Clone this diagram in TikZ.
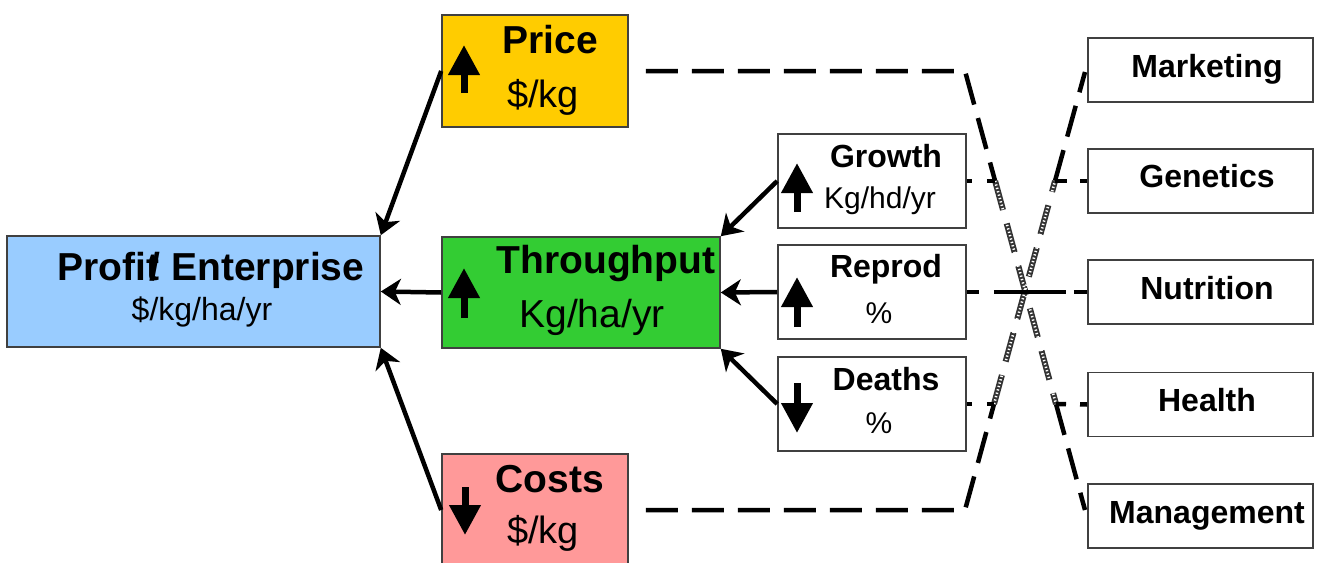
\documentclass[tikz,border=0pt]{standalone}
\usepackage{fontspec}
\setmainfont{Liberation Sans}
\usetikzlibrary{arrows.meta}
\definecolor{cprofit}{HTML}{99CCFF}
\definecolor{cprice}{HTML}{FFCC00}
\definecolor{cthr}{HTML}{33CC33}
\definecolor{ccost}{HTML}{FF9999}
\begin{document}
\begin{tikzpicture}[x=1pt,y=-1pt,
  box/.style={draw=black!75, line width=1.6pt, inner sep=0pt, minimum width=#1},
  conn/.style={line width=4.5pt, -{Stealth[length=20pt,width=26pt,inset=6pt]}},
  glyph/.style={line width=7pt, -{Triangle[length=30pt,width=30pt]}},
  dline/.style={line width=4.5pt, dash pattern=on 32pt off 14pt},
  hatchA/.style={draw=black!80, line width=6pt, dash pattern=on 30pt off 14pt},
  hatchB/.style={draw=white, line width=2.6pt, dash pattern=on 1.3pt off 2.2pt},
  txt/.style={anchor=base, inner sep=0pt},
  bigb/.style={txt, font=\fontsize{39}{41}\selectfont\bfseries},
  bigr/.style={txt, font=\fontsize{38}{40}\selectfont},
  medb/.style={txt, font=\fontsize{32}{34}\selectfont\bfseries},
  medr/.style={txt, font=\fontsize{30}{32}\selectfont},
]
\useasboundingbox (0,0) rectangle (1321,562);
\clip (0,0) rectangle (1321,562);

% main boxes
\node[box=373pt, fill=cprofit, minimum height=111pt] (profit) at (193.5,291.5) {};
\node[box=186pt, fill=cprice, minimum height=112pt] (price) at (535,71) {};
\node[box=278pt, fill=cthr, minimum height=111pt] (thr) at (581,292.5) {};
\node[box=186pt, fill=ccost, minimum height=112pt] (costs) at (535,510) {};
\node[box=188pt, fill=white, minimum height=94pt] (growth) at (872,181) {};
\node[box=188pt, fill=white, minimum height=94pt] (reprod) at (872,292) {};
\node[box=188pt, fill=white, minimum height=94pt] (deaths) at (872,404) {};
\node[box=225pt, fill=white, minimum height=64pt] (mkt) at (1200.5,70) {};
\node[box=225pt, fill=white, minimum height=64pt] (gen) at (1200.5,181) {};
\node[box=225pt, fill=white, minimum height=64pt] (nut) at (1200.5,292) {};
\node[box=225pt, fill=white, minimum height=64pt] (hea) at (1200.5,404.5) {};
\node[box=225pt, fill=white, minimum height=64pt] (mgt) at (1200.5,516) {};

% texts
\node[bigb] (tprofit) at (211,280) {Profit\kern-0.25em/ Enterprise};
\node[txt, font=\fontsize{32}{34}\selectfont] (tprofitu) at (202,320) {\$/kg/ha/yr};
\node[bigb] (tprice) at (550,53) {Price};
\node[bigr] (tpriceu) at (543,107) {\$/kg};
\node[bigb] (tthr) at (606,273) {Throughput};
\node[txt, font=\fontsize{39}{41}\selectfont] (tthru) at (592,327) {Kg/ha/yr};
\node[bigb] (tcost) at (550,492) {Costs};
\node[bigr] (tcostu) at (543,543) {\$/kg};
\node[medb] (tgrowth) at (886,167) {Growth};
\node[medr] (tgrowthu) at (880,208) {Kg/hd/yr};
\node[medb] (treprod) at (886,277) {Reprod};
\node[medr] (treprodu) at (879,323) {\%};
\node[medb] (tdeaths) at (886,390) {Deaths};
\node[medr] (tdeathsu) at (879,433) {\%};
\node[medb] (tmkt) at (1207,77) {Marketing};
\node[medb] (tgen) at (1207,187) {Genetics};
\node[medb] (tnut) at (1207,299) {Nutrition};
\node[medb] (thea) at (1207,411) {Health};
\node[medb] (tmgt) at (1207,523) {Management};

% glyph arrows inside boxes
\draw[glyph] (464,93) -- (464,45);
\draw[glyph] (464,318) -- (464,268);
\draw[glyph] (465,487) -- (465,535);
\draw[glyph] (797,212) -- (797,163);
\draw[glyph] (797,327) -- (797,277);
\draw[glyph] (797,383) -- (797,433);

% solid connectors
\draw[conn] (price.west) -- (profit.north east);
\draw[conn] (thr.west) -- (profit.east);
\draw[conn] (costs.west) -- (profit.south east);
\draw[conn] (growth.west) -- (thr.north east);
\draw[conn] (reprod.west) -- (thr.east);
\draw[conn] (deaths.west) -- (thr.south east);

% dashed routes
\coordinate (ps) at ([xshift=17pt]price.east);
\coordinate (pt) at (965,71);
\coordinate (pa) at (995.1,181);
\coordinate (pb) at (1056,404);
\coordinate (pe) at (1085,510);
\coordinate (cs) at ([xshift=17pt]costs.east);
\coordinate (ct) at (965,510);
\coordinate (ca) at (994,404);
\coordinate (cb) at (1055,181);
\coordinate (ce) at (1085,72);

\draw[dline] (ps) -- (pt) -- (pa);
\draw[dline] (pb) -- (pe);
\draw[dline] (cs) -- (ct) -- (ca);
\draw[dline] (cb) -- (ce);

\draw[hatchA] (pa) -- (pb);
\draw[hatchA] (ca) -- (cb);
\draw[hatchB] (pa) -- (pb);
\draw[hatchB] (ca) -- (cb);

\draw[line width=4.5pt, dash pattern=on 5pt off 15pt on 12pt] (growth.east) -- (pa);
\draw[line width=4.5pt, dash pattern=on 12pt off 13pt on 10pt] (cb) -- (gen.west);
\draw[line width=4.5pt, dash pattern=on 5pt off 15pt on 12pt] (deaths.east) -- (ca);
\draw[line width=4.5pt, dash pattern=on 10pt off 14pt on 10pt] (pb) -- (hea.west);
\draw[line width=4.5pt, dash pattern=on 12pt off 15pt on 72pt off 8pt on 15pt] (reprod.east) -- (nut.west);
\end{tikzpicture}
\end{document}
